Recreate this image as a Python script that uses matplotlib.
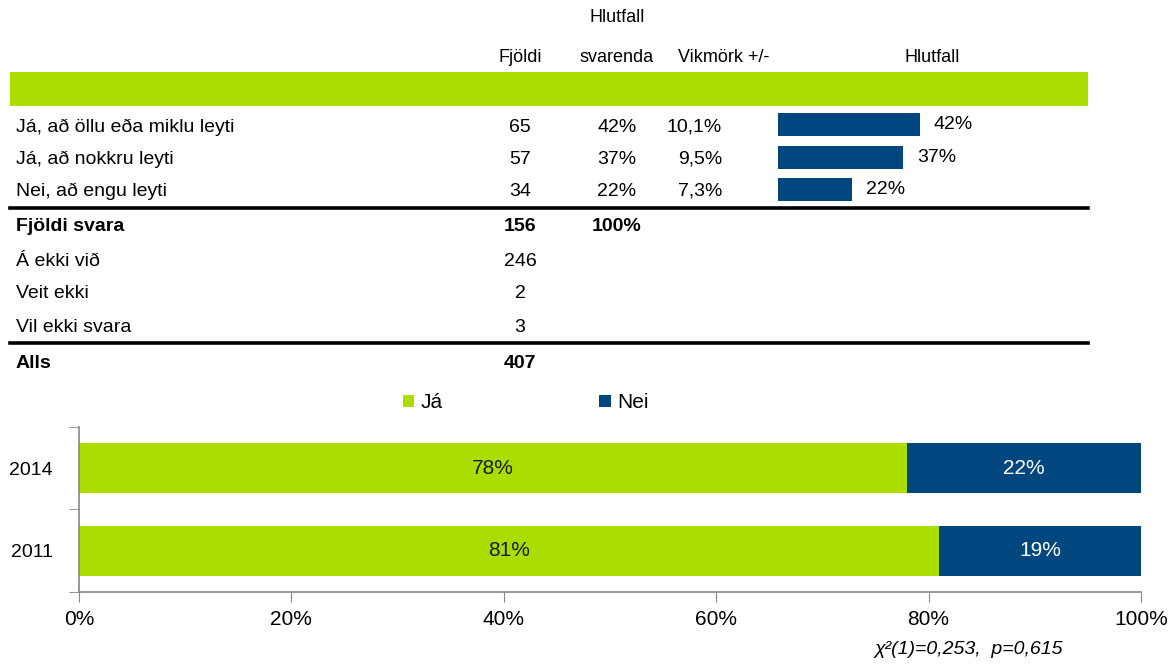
import matplotlib
matplotlib.use("Agg")
import matplotlib.pyplot as plt
import numpy as np
from matplotlib.patches import Rectangle

plt.rcParams["font.family"] = ["Liberation Sans Narrow", "Liberation Sans", "DejaVu Sans"]

GREEN = "#ABDE00"
BLUE = "#00467F"
AXIS_GREY = "#868686"

# table data
answers = ["Já, að öllu eða miklu leyti", "Já, að nokkru leyti", "Nei, að engu leyti"]
answer_counts = [65, 57, 34]
answer_share = [42, 37, 22]
margins = ["10,1%", "9,5%", "7,3%"]

extra_rows = ["Fjöldi svara", "Á ekki við", "Veit ekki", "Vil ekki svara", "Alls"]
extra_counts = [156, 246, 2, 3, 407]
extra_share = ["100%", "", "", "", ""]

# comparison chart data
years = ["2014", "2011"]
ja = [78, 81]
nei = [22, 19]

W, H = 1168, 666
fig = plt.figure(figsize=(W / 100, H / 100), dpi=100)


def px(x, y):
    return x / W, 1 - y / H


def ftext(x, y, s, **kw):
    kw.setdefault("fontsize", 14)
    kw.setdefault("va", "center")
    fig.text(*px(x, y), s, **kw)


# header
ftext(617, 18, "Hlutfall", ha="center", fontsize=13)
ftext(520, 58, "Fjöldi", ha="center", fontsize=13)
ftext(617, 58, "svarenda", ha="center", fontsize=13)
ftext(724, 58, "Vikmörk +/-", ha="center", fontsize=13)
ftext(932, 58, "Hlutfall", ha="center", fontsize=13)

fig.patches.append(Rectangle(px(10, 106), 1078 / W, 34 / H, transform=fig.transFigure,
                             facecolor=GREEN, edgecolor="none"))

row_y = [127, 159, 191]
for yy, lab, n, s, m in zip(row_y, answers, answer_counts, answer_share, margins):
    ftext(16, yy, lab, ha="left")
    ftext(520, yy, str(n), ha="center")
    ftext(617, yy, f"{s}%", ha="center")
    ftext(722, yy, m, ha="right")

# small bar column
bax = fig.add_axes([778 / W, 1 - 206 / H, 310 / W, 97.5 / H])
pos = np.arange(len(answers))
bars = bax.barh(pos, answer_share, height=0.7, color=BLUE)
bax.set_xlim(0, 310 / 3.38)
bax.set_ylim(len(answers) - 0.5, -0.5)
bax.axis("off")
for b, s in zip(bars, answer_share):
    bax.text(b.get_width() + 14 / 3.38, b.get_y() + b.get_height() / 2, f"{s}%",
             va="center", ha="left", fontsize=14)

# separator lines
for yy in (208, 343):
    fig.add_artist(plt.Line2D([10 / W, 1088 / W], [1 - yy / H] * 2, color="black", lw=2.6,
                              transform=fig.transFigure))

extra_y = [227, 261, 294, 327, 363]
for i, (yy, lab, n, s) in enumerate(zip(extra_y, extra_rows, extra_counts, extra_share)):
    bold = i in (0, 4)
    w = "bold" if bold else "normal"
    ftext(16, yy, lab, ha="left", fontweight=w)
    ftext(520, yy, str(n), ha="center", fontweight=w)
    if s:
        ftext(617, yy, s, ha="center", fontweight=w)

# stacked bar chart
ax = fig.add_axes([79 / W, 1 - 592 / H, 1062 / W, 165 / H])
y = np.arange(len(years))
b1 = ax.barh(y, ja, height=0.6, color=GREEN, label="Já")
b2 = ax.barh(y, nei, left=ja, height=0.6, color=BLUE, label="Nei")
for r, v in zip(b1, ja):
    ax.text(r.get_x() + r.get_width() / 2, r.get_y() + r.get_height() / 2, f"{v}%",
            ha="center", va="center", fontsize=15, color="#1a1a1a")
for r, v in zip(b2, nei):
    ax.text(r.get_x() + r.get_width() / 2, r.get_y() + r.get_height() / 2, f"{v}%",
            ha="center", va="center", fontsize=15, color="white")

ax.set_xlim(0, 100)
ax.set_ylim(len(years) - 0.5, -0.5)
ax.set_xticks(np.arange(0, 101, 20))
ax.set_xticklabels([f"{t}%" for t in range(0, 101, 20)])
ax.set_yticks(y)
ax.set_yticklabels(years)
ax.set_yticks([-0.5, 0.5, 1.5], minor=True)
ax.tick_params(axis="y", which="major", length=0, pad=19, labelsize=14)
ax.tick_params(axis="y", which="minor", length=7, color=AXIS_GREY, direction="out")
ax.tick_params(axis="x", length=7, color=AXIS_GREY, direction="out", labelsize=15, pad=6)
for sp in ("top", "right"):
    ax.spines[sp].set_visible(False)
for sp in ("left", "bottom"):
    ax.spines[sp].set_color(AXIS_GREY)
    ax.spines[sp].set_linewidth(1.2)

ax.legend(ncol=2, loc="center left", bbox_to_anchor=px(403, 403), bbox_transform=fig.transFigure,
          frameon=False, fontsize=15, handlelength=0.55, handleheight=0.55, handletextpad=0.3,
          columnspacing=7.5, borderpad=0, borderaxespad=0)

ftext(1063, 650, "χ²(1)=0,253,  p=0,615", ha="right", fontsize=14, style="italic")

fig.savefig("out.png", dpi=100)
